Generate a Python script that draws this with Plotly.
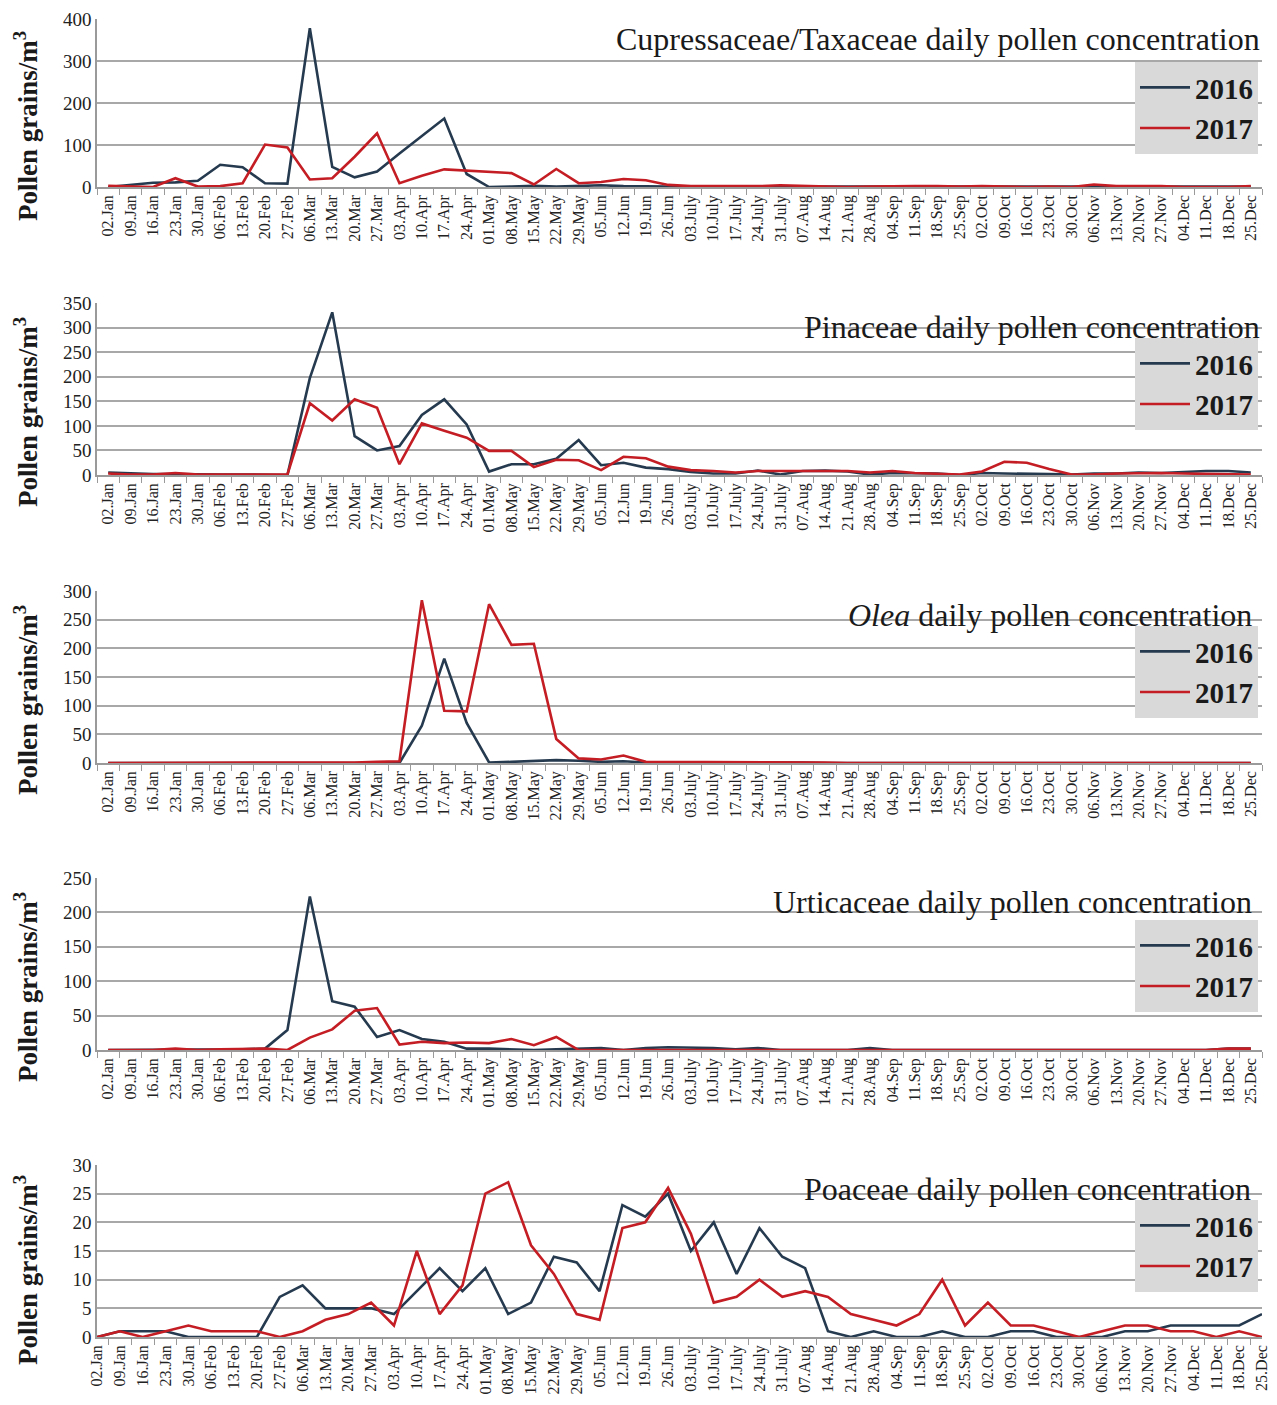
import plotly.graph_objects as go
from plotly.subplots import make_subplots

weeks = ["02.Jan","09.Jan","16.Jan","23.Jan","30.Jan","06.Feb","13.Feb","20.Feb","27.Feb",
         "06.Mar","13.Mar","20.Mar","27.Mar","03.Apr","10.Apr","17.Apr","24.Apr","01.May",
         "08.May","15.May","22.May","29.May","05.Jun","12.Jun","19.Jun","26.Jun","03.July",
         "10.July","17.July","24.July","31.July","07.Aug","14.Aug","21.Aug","28.Aug","04.Sep",
         "11.Sep","18.Sep","25.Sep","02.Oct","09.Oct","16.Oct","23.Oct","30.Oct","06.Nov",
         "13.Nov","20.Nov","27.Nov","04.Dec","11.Dec","18.Dec","25.Dec"]

cupress_2016 = [0,5,10,11,15,53,47,9,8,378,48,23,37,80,121,163,31,0,1,3,
                1,2,4,2,1,1,1,1,1,1,1,1,1,0,0,1,1,1,1,1,
                1,1,0,0,1,1,1,1,0,0,0,1]
cupress_2017 = [3,1,0,21,1,2,9,101,94,18,21,72,128,9,27,42,39,35,33,6,
                43,9,12,19,16,5,2,2,2,2,4,3,2,0,1,2,2,2,1,2,
                1,0,1,0,6,2,2,2,0,0,0,2]

pinaceae_2016 = [5,3,2,2,1,1,1,0,0,197,331,79,50,59,122,154,103,7,22,22,
                 33,71,20,25,15,12,6,3,3,9,1,8,9,7,1,4,4,3,0,4,
                 3,3,2,1,3,3,5,4,6,8,8,5]
pinaceae_2017 = [3,1,1,4,1,1,1,1,1,146,111,154,137,22,105,90,76,49,49,16,
                 31,30,10,37,34,17,10,8,5,8,8,8,7,8,5,8,4,3,1,7,
                 27,25,12,1,1,3,4,4,3,2,1,1]

olea_2016 = [0,0,0,0,0,0,0,0,0,0,0,0,0,0,65,182,70,1,2,3,
             5,4,2,3,1,1,1,2,1,1,1,1,0,0,0,0,1,0,0,0,
             0,0,0,0,0,0,0,0,0,0,0,0]
olea_2017 = [0,0,0,0,0,0,0,0,0,0,1,1,2,3,284,91,90,277,206,208,
             42,8,6,13,2,2,1,1,1,1,1,1,1,0,0,0,0,0,0,0,
             0,0,0,0,0,0,0,0,0,0,0,0]

urtic_2016 = [0,0,0,0,0,1,1,2,29,223,71,63,19,29,16,12,2,2,1,0,
              1,2,3,0,3,4,4,3,1,3,0,0,0,0,3,0,0,0,0,0,
              0,0,0,0,0,0,0,0,0,0,2,2]
urtic_2017 = [0,0,0,2,0,1,2,2,0,18,30,57,61,8,12,10,11,10,16,7,
              19,0,0,0,0,0,0,0,0,0,0,0,0,0,0,0,0,0,0,0,
              0,0,0,0,0,0,0,0,0,0,2,2]

poaceae_2016 = [0,1,1,1,0,0,0,0,7,9,5,5,5,4,8,12,8,12,4,6,
                14,13,8,23,21,25,15,20,11,19,14,12,1,0,1,0,0,1,0,0,
                1,1,0,0,0,1,1,2,2,2,2,4]
poaceae_2017 = [0,1,0,1,2,1,1,1,0,1,3,4,6,2,15,4,9,25,27,16,
                11,4,3,19,20,26,18,6,7,10,7,8,7,4,3,2,4,10,2,6,
                2,2,1,0,1,2,2,1,1,0,1,0]

titles = ["Cupressaceae/Taxaceae daily pollen concentration",
          "Pinaceae daily pollen concentration",
          "<i>Olea</i> daily pollen concentration",
          "Urticaceae daily pollen concentration",
          "Poaceae daily pollen concentration"]
series = [(cupress_2016, cupress_2017), (pinaceae_2016, pinaceae_2017),
          (olea_2016, olea_2017), (urtic_2016, urtic_2017), (poaceae_2016, poaceae_2017)]
y_max = [400, 350, 300, 250, 30]
y_step = [100, 50, 50, 50, 5]
years = ["2016", "2017"]

# layout geometry, in screen pixels (page body has an 8px offset)
OFF = 8
W, H = 1277, 1405
PLOT_L, PLOT_R = 97, 1262
PLOT_T, PLOT_B = 15, 1337
ML = PLOT_L - OFF
MR = W - (PLOT_R - OFF)
MT = PLOT_T - OFF
MB = H - (PLOT_B - OFF)
PH = H - MT - MB
PW = W - ML - MR
tops = [19, 303, 591, 878, 1165]
bottoms = [187, 475, 763, 1050, 1337]
ytitle_centers = [126, 412, 700, 987, 1270]
legend_tops = [62, 338, 626, 920, 1200]
title_top = [19, 307, 595, 882, 1169]
title_right = [1262, 1262, 1254, 1254, 1253]

def py(px):
    return (PLOT_B - px) / PH

def pxx(px):
    return (px - PLOT_L) / PW

NAVY = "#263A4F"
RED = "#C41E24"
SERIF = "Liberation Serif"

fig = make_subplots(rows=5, cols=1)

for k in range(5):
    d16, d17 = series[k]
    leg = "legend" if k == 0 else f"legend{k+1}"
    fig.add_trace(go.Scatter(x=weeks, y=d16, mode="lines", name=years[0],
                             line=dict(color=NAVY, width=2.6), legend=leg,
                             legendgroup=f"a{k}"), row=k+1, col=1)
    fig.add_trace(go.Scatter(x=weeks, y=d17, mode="lines", name=years[1],
                             line=dict(color=RED, width=2.6), legend=leg,
                             legendgroup=f"b{k}"), row=k+1, col=1)

layout_updates = {}
for k in range(5):
    sx = "xaxis" if k == 0 else f"xaxis{k+1}"
    sy = "yaxis" if k == 0 else f"yaxis{k+1}"
    xr = [0, 51] if k == 4 else [-0.5, 51.5]
    layout_updates[sx] = dict(
        type="category", categoryorder="array", categoryarray=weeks,
        range=xr, tickangle=-90, tickson="boundaries", ticks="outside", ticklen=6,
        tickcolor="#9a9a9a", showline=True, linecolor="#9a9a9a", linewidth=1.5,
        showgrid=False, tickfont=dict(family=SERIF, size=16, color="#222"),
        domain=[0, 1], anchor=sy.replace("axis", ""), automargin=False,
        ticklabeloverflow="allow",
    )
    layout_updates[sy] = dict(
        range=[0, y_max[k]], tick0=0, dtick=y_step[k], showgrid=True,
        gridcolor="#A8A8A8", gridwidth=1.5, showline=True, linecolor="#9a9a9a",
        linewidth=1.5, zeroline=False, ticks="", tickfont=dict(family=SERIF, size=19, color="#222"),
        domain=[py(bottoms[k]), py(tops[k])], automargin=False,
        ticklabeloverflow="allow",
    )
    lname = "legend" if k == 0 else f"legend{k+1}"
    layout_updates[lname] = dict(
        x=pxx(1258), xanchor="right", y=py(legend_tops[k]), yanchor="top",
        bgcolor="#D9D9D9", borderwidth=0,
        font=dict(family=SERIF, size=29, color="#1a1a1a", weight="bold"),
        traceorder="grouped", tracegroupgap=0, itemwidth=50,
    )

fig.update_layout(**layout_updates)

annotations = []
for k in range(5):
    annotations.append(dict(
        text=titles[k], xref="paper", yref="paper",
        x=pxx(title_right[k]), y=py(title_top[k]), xanchor="right", yanchor="top",
        showarrow=False, font=dict(family=SERIF, size=32, color="#1a1a1a"),
    ))
    annotations.append(dict(
        text="Pollen grains/m<sup>3</sup>", xref="paper", yref="paper",
        x=pxx(26), y=py(ytitle_centers[k]), xanchor="center", yanchor="middle",
        textangle=-90, showarrow=False,
        font=dict(family=SERIF, size=27, color="#1a1a1a", weight="bold"),
    ))

fig.update_layout(
    width=W, height=H, margin=dict(l=ML, r=MR, t=MT, b=MB, autoexpand=False),
    plot_bgcolor="white", paper_bgcolor="white",
    annotations=annotations, showlegend=True,
)

fig.write_html("out.html")
